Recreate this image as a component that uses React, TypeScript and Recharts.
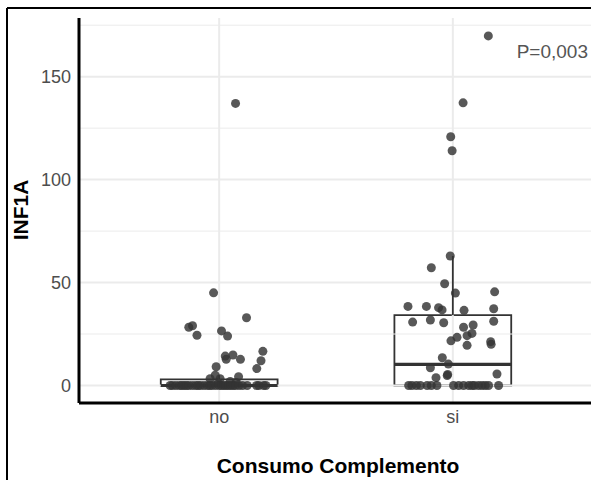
import React from "react";
import {
  ScatterChart,
  Scatter,
  XAxis,
  YAxis,
  ReferenceLine,
  ReferenceArea,
} from "recharts";

// category positions on the x scale
const CATEGORIES = ["no", "si"];
const X_TICKS = [1, 2];
const Y_TICKS = [0, 50, 100, 150];
const Y_MAJOR = [0, 50, 100, 150];
const Y_MINOR = [25, 75, 125, 175];

// jittered observations: [x position, INF1A]
const NO_POINTS: [number, number][] = [
  [1.07, 137], [0.976, 45], [0.87, 28.3], [0.886, 29], [0.905, 24.4],
  [1.01, 26.5], [1.036, 24], [1.117, 32.9], [1.026, 14.3], [1.03, 12.7],
  [1.059, 14.8], [1.091, 12.7], [1.187, 16.6], [1.179, 12], [1.161, 8.2],
  [0.987, 9.1], [0.983, 5], [1.083, 4.3], [0.961, 3.3], [1.004, 3.3],
  [1.047, 2], [1.072, 1.5], [0.995, 1.2],
  [0.79, 0], [0.8, 0], [0.815, 0], [0.83, 0], [0.84, 0], [0.85, 0], [0.86, 0],
  [0.87, 0], [0.885, 0], [0.9, 0], [0.91, 0], [0.92, 0], [0.935, 0], [0.95, 0],
  [0.96, 0], [0.97, 0], [0.985, 0], [1.0, 0], [1.01, 0], [1.02, 0], [1.03, 0],
  [1.04, 0], [1.05, 0], [1.06, 0], [1.07, 0], [1.085, 0], [1.1, 0], [1.12, 0],
  [1.16, 0], [1.17, 0], [1.19, 0], [1.2, 0],
];

const SI_POINTS: [number, number][] = [
  [2.152, 169.8], [2.044, 137.3], [1.991, 120.8], [1.997, 114],
  [1.989, 62.9], [1.908, 57.2], [1.965, 49.4], [2.011, 44.9], [2.179, 45.5],
  [1.808, 38.4], [1.887, 38.4], [1.939, 37.8], [1.954, 36.7], [2.048, 36.5],
  [2.175, 37.3], [1.828, 30.8], [1.904, 31.8], [1.961, 30.5], [2.175, 31.2],
  [2.087, 29.4], [2.046, 28.3], [2.082, 25.3], [2.061, 24.2], [2.018, 23.4],
  [1.992, 21.7], [2.162, 21.3], [2.164, 20], [2.061, 19.5], [1.955, 13.5],
  [1.981, 10.4], [1.904, 8.6], [1.978, 5.4], [1.976, 4.8], [1.928, 3.8],
  [2.189, 5.6],
  [1.811, 0], [1.825, 0], [1.844, 0], [1.861, 0], [1.89, 0], [1.908, 0],
  [1.932, 0], [2.003, 0], [2.025, 0], [2.046, 0], [2.068, 0], [2.082, 0],
  [2.092, 0], [2.11, 0], [2.125, 0], [2.139, 0], [2.153, 0], [2.196, 0],
];

// box summaries: [center, lower whisker, q1, median, q3, upper whisker]
const BOXES: [number, number, number, number, number, number][] = [
  [1, 0, 0, 0, 3, 5],
  [2, 0, 0, 10.3, 34.2, 62.9],
];
const BOX_HALF = 0.25;

const toRows = (pts: [number, number][]) => pts.map(([x, y]) => ({ x, y }));

const FONT = "'Liberation Sans', Arial, Helvetica, sans-serif";
const INK = "#333333";
const GRID = "#ebebeb";

const Dot = (props: any) => (
  <circle cx={props.cx} cy={props.cy} r={4.5} fill={INK} fillOpacity={0.82} />
);

export default function App() {
  return (
    <div
      style={{
        position: "absolute",
        left: 0,
        top: 0,
        width: 591,
        height: 480,
        overflow: "hidden",
        background: "#fff",
        fontFamily: FONT,
      }}
    >
      <ScatterChart
        width={600}
        height={480}
        margin={{ top: 18, right: 7, bottom: 0, left: 0 }}
      >
        <XAxis
          type="number"
          dataKey="x"
          domain={[0.4, 2.6]}
          ticks={X_TICKS}
          tickFormatter={(v: number) => CATEGORIES[v - 1]}
          allowDataOverflow
          height={77}
          tickSize={0}
          tickMargin={7}
          axisLine={{ stroke: "#000", strokeWidth: 3 }}
          tick={{ fontSize: 18, fill: "#4d4d4d", fontFamily: FONT }}
        />
        <YAxis
          type="number"
          dataKey="y"
          domain={[-8.5, 178.5]}
          ticks={Y_TICKS}
          allowDataOverflow
          width={79}
          tickSize={0}
          tickMargin={8}
          axisLine={{ stroke: "#000", strokeWidth: 3 }}
          tick={{ fontSize: 18, fill: "#4d4d4d", fontFamily: FONT }}
        />

        {/* grid */}
        {Y_MINOR.map((v) => (
          <ReferenceLine key={`mn${v}`} y={v} stroke={GRID} strokeWidth={1} />
        ))}
        {Y_MAJOR.map((v) => (
          <ReferenceLine key={`mj${v}`} y={v} stroke={GRID} strokeWidth={2} />
        ))}
        {X_TICKS.map((v) => (
          <ReferenceLine key={`vx${v}`} x={v} stroke={GRID} strokeWidth={2} />
        ))}

        {/* boxplots */}
        {BOXES.map(([c, lo, q1, med, q3, hi]) => (
          <ReferenceLine
            key={`wu${c}`}
            segment={[{ x: c, y: q3 }, { x: c, y: hi }]}
            stroke={INK}
            strokeWidth={1.8}
          />
        ))}
        {BOXES.map(([c, lo, q1]) => (
          <ReferenceLine
            key={`wl${c}`}
            segment={[{ x: c, y: lo }, { x: c, y: q1 }]}
            stroke={INK}
            strokeWidth={1.8}
          />
        ))}
        {BOXES.map(([c, , q1, , q3]) => (
          <ReferenceArea
            key={`bx${c}`}
            x1={c - BOX_HALF}
            x2={c + BOX_HALF}
            y1={q1}
            y2={q3}
            fill="#fff"
            fillOpacity={1}
            stroke={INK}
            strokeWidth={1.8}
          />
        ))}
        {BOXES.map(([c, , , med]) => (
          <ReferenceLine
            key={`md${c}`}
            segment={[{ x: c - BOX_HALF, y: med }, { x: c + BOX_HALF, y: med }]}
            stroke={INK}
            strokeWidth={3.2}
          />
        ))}

        <Scatter
          data={toRows(NO_POINTS)}
          shape={Dot}
          isAnimationActive={false}
        />
        <Scatter
          data={toRows(SI_POINTS)}
          shape={Dot}
          isAnimationActive={false}
        />
      </ScatterChart>

      <svg
        width={591}
        height={480}
        style={{ position: "absolute", left: 0, top: 0, pointerEvents: "none" }}
      >
        <line x1={7} y1={8} x2={591} y2={8} stroke="#000" strokeWidth={2} />
        <line x1={7} y1={8} x2={7} y2={480} stroke="#000" strokeWidth={2} />
        <text
          x={588}
          y={58}
          textAnchor="end"
          fontSize={19}
          fill="#555"
          fontFamily={FONT}
        >
          P=0,003
        </text>
        <text
          x={338}
          y={473}
          textAnchor="middle"
          fontSize={21}
          fontWeight="bold"
          fill="#000"
          fontFamily={FONT}
        >
          Consumo Complemento
        </text>
        <text
          x={28}
          y={210}
          transform="rotate(-90 28 210)"
          textAnchor="middle"
          fontSize={21}
          fontWeight="bold"
          fill="#000"
          fontFamily={FONT}
        >
          INF1A
        </text>
      </svg>
    </div>
  );
}
